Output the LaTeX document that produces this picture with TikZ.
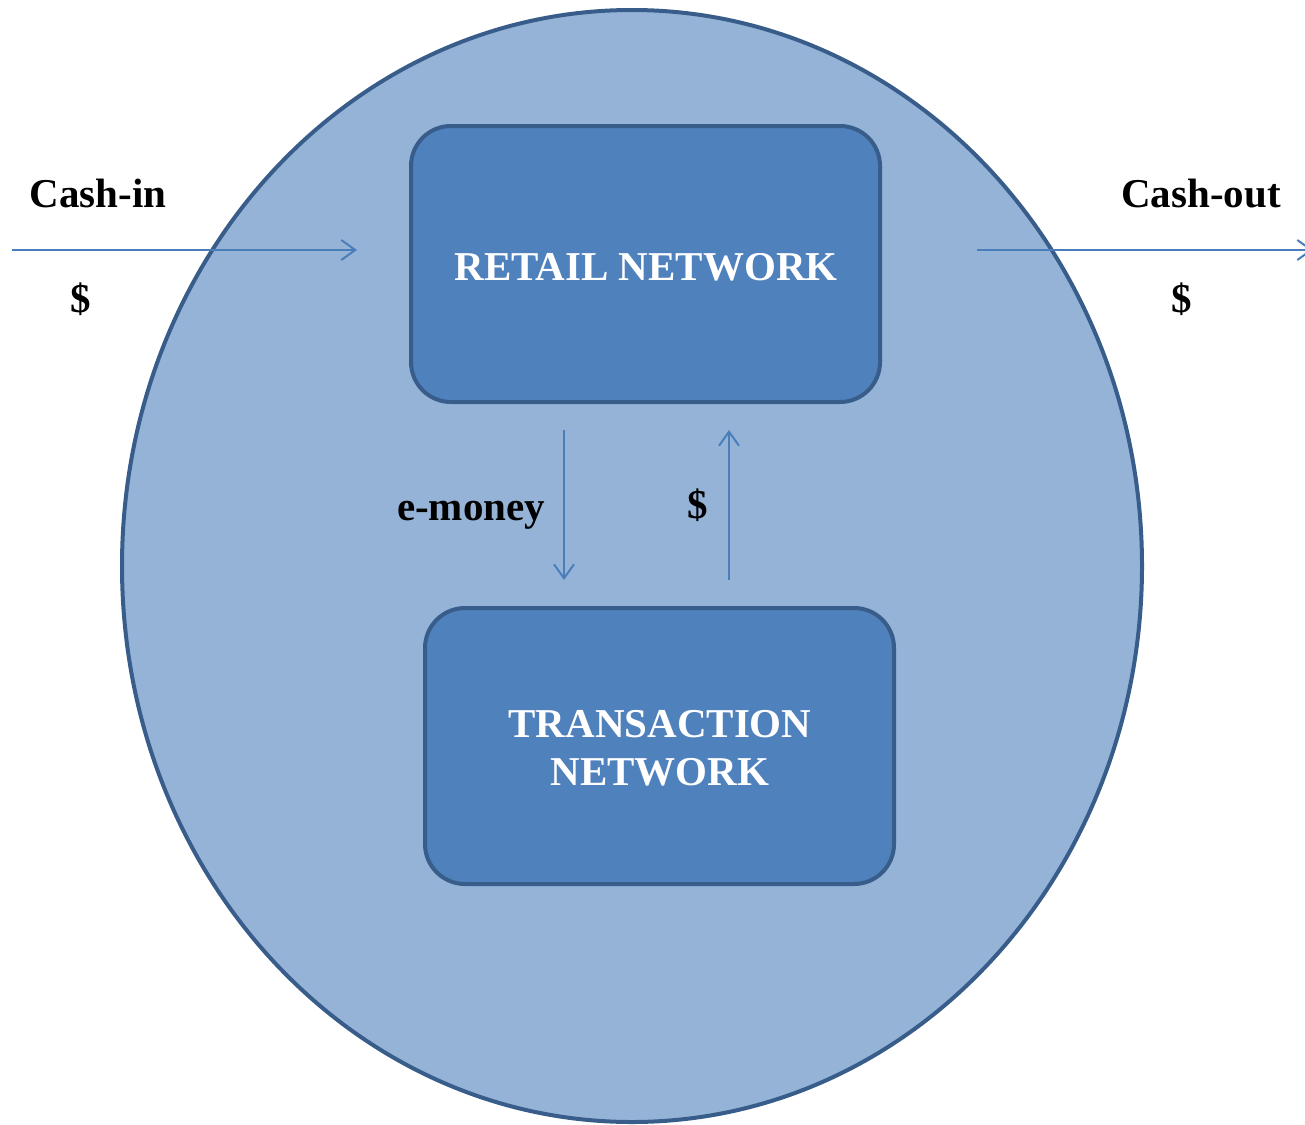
\documentclass[tikz,border=0pt]{standalone}
\usepackage{fontspec}
\setmainfont{Liberation Serif}
\usetikzlibrary{arrows.meta}
\definecolor{ovalfill}{HTML}{95B3D7}
\definecolor{boxfill}{HTML}{4F81BD}
\definecolor{edgeblue}{HTML}{385D8A}
\definecolor{flowblue}{HTML}{4A7EBB}
\begin{document}
\begin{tikzpicture}[x=0.5pt,y=-0.5pt]
\tikzset{
  netbox/.style={draw=edgeblue, line width=2pt, fill=boxfill, rounded corners=20pt,
    minimum width=234.5pt, minimum height=138pt, inner sep=0pt},
  boxtext/.style={text=white, font=\fontsize{20.5}{24}\selectfont\bfseries, anchor=base, inner sep=0pt, align=center},
  flowlabel/.style={font=\fontsize{20.5}{24}\selectfont\bfseries, anchor=base, inner sep=0pt},
  flow/.style={draw=flowblue, line width=1pt, -{Straight Barb[length=7pt,width=10pt]}}
}
\useasboundingbox (0,0) rectangle (1305,1124);
% outer oval
\draw [edgeblue, line width=2pt, fill=ovalfill] (632,566) ellipse [x radius=255pt, y radius=278pt];
% the two networks
\node [netbox] (retail) at (645.5,264) {};
\node [netbox] (trans) at (659.5,746) {};
\node [boxtext] (retailtxt) at (646,280) {RETAIL NETWORK};
\node [boxtext] (transtxt) at (660,785) {TRANSACTION\\NETWORK};
% free ends of the flows
\coordinate (inA) at (12,250);
\coordinate (inB) at (357,250);
\coordinate (outA) at (977,250);
\coordinate (outB) at (1313,250);
\coordinate (downA) at (564,430);
\coordinate (downB) at (564,580);
\coordinate (upA) at (729,580);
\coordinate (upB) at (729,430);
\draw [flow] (inA) -- (inB);
\draw [flow] (outA) -- (outB);
\draw [flow] (downA) -- (downB);
\draw [flow] (upA) -- (upB);
% labels
\node [flowlabel] (cashin) at (98,207) {Cash-in};
\node [flowlabel] (cashindol) at (81,312) {\$};
\node [flowlabel] (cashout) at (1201,207) {Cash-out};
\node [flowlabel] (cashoutdol) at (1182,312) {\$};
\node [flowlabel] (emoney) at (471,520) {e-money};
\node [flowlabel] (backdol) at (698,518) {\$};
\end{tikzpicture}
\end{document}
